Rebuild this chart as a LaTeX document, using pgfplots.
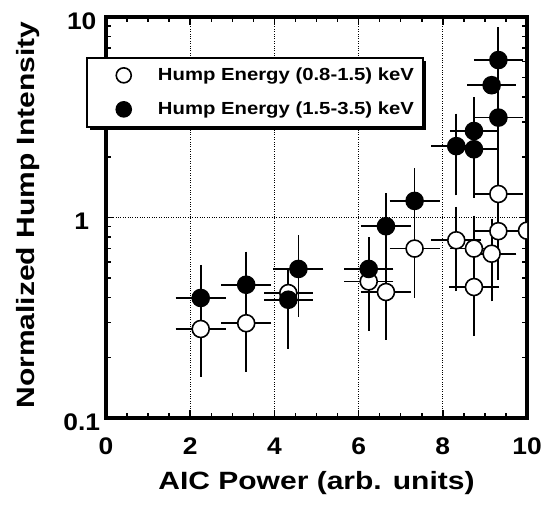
\documentclass[border=0pt]{standalone}
\usepackage{pgfplots}
\pgfplotsset{compat=1.18}
\usepackage{pgfplotstable}
\usepackage{fontspec}
\setmainfont{Liberation Sans}
\newfontfamily\wideA{Liberation Sans}[FakeStretch=1.1]
\newfontfamily\wideB{Liberation Sans}[FakeStretch=1.2]
\newfontfamily\wideC{Liberation Sans}[FakeStretch=1.16]
\usetikzlibrary{shadows}

\pgfplotstableread{
x     y      xe    yp     ym
2.25  0.278  0.50  0.10   0.110
3.33  0.297  0.50  0.10   0.119
4.33  0.420  0.48  0.10   0.175
6.24  0.480  0.49  0.20   0.194
6.65  0.425  0.50  0.175  0.168
7.33  0.700  0.50  0.28   0.283
8.32  0.770  0.50  0.31   0.320
8.74  0.700  0.48  0.277  0.150
8.74  0.450  0.50  0.17   0.182
9.16  0.660  0.49  0.28   0.260
9.32  0.855  0.49  0.245  0.345
9.32  1.310  0.49  0.55   0.410
}\openpts

\pgfplotstableread{
x     y      xe    yp     ym
2.25  0.397  0.50  0.157  0.161
3.33  0.462  0.50  0.184  0.130
4.33  0.389  0.48  0.14   0.157
4.57  0.554  0.50  0.226  0.220
6.24  0.554  0.49  0.206  0.224
6.65  0.905  0.50  0.355  0.305
7.33  1.210  0.50  0.47   0.230
8.32  2.270  0.50  0.88   0.920
8.74  2.700  0.48  1.11   1.090
8.74  2.190  0.48  0.70   0.880
9.16  4.570  0.48  0.0    0.0
9.32  6.100  0.49  2.40   1.700
9.32  3.150  0.49  1.25   1.290
}\filledpts

\newcommand{\tickfont}{\wideA\bfseries\fontsize{24}{28}\selectfont}
\newcommand{\labfont}{\wideB\bfseries\fontsize{25}{30}\selectfont}
\newcommand{\legfont}{\wideC\bfseries\fontsize{17.5}{21}\selectfont}

\begin{document}
\begin{tikzpicture}
\useasboundingbox (0,0) rectangle (545pt,504pt);
\begin{axis}[
  at={(106pt,86pt)}, anchor=south west,
  scale only axis, width=421pt, height=401pt,
  xmin=0, xmax=10, ymin=0.1, ymax=10, ymode=log,
  xtick={0,2,4,6,8,10}, minor x tick num=3,
  ytick={0.1,1,10}, yticklabels={0.1,1,10},
  /pgf/number format/assume math mode=true,
  tick label style={font=\tickfont},
  xticklabel style={anchor=center, yshift=-28pt},
  yticklabel style={anchor=center, xshift=-24.3pt, yshift=-4pt},
  major tick length=8pt, minor tick length=5pt,
  every tick/.style={black, line width=1.5pt},
  axis line style={line width=3.5pt},
  xmajorgrids, ymajorgrids,
  major grid style={black, dotted, line width=0.9pt},
  clip marker paths=true,
  xlabel={AIC Power (arb. units)},
  ylabel={Normalized Hump Intensity},
  label style={font=\labfont},
  xlabel style={at={(axis description cs:0.5,-0.162)}, anchor=center},
  ylabel style={at={(axis description cs:-0.186,0.506)}, anchor=center},
  error bars/error bar style={line width=1.8pt, black},
  error bars/error mark options={line width=1.8pt, mark size=4pt, black},
  legend style={at={(axis description cs:-0.0475,0.9)}, anchor=north west,
    draw=black, line width=1.5pt, fill=white,
    drop shadow={shadow xshift=3pt, shadow yshift=-3pt, fill=black, opacity=1},
    font=\legfont,
    nodes={inner sep=0pt},
    inner xsep=9pt, inner ysep=10pt, row sep=19pt, column sep=26.7pt},
  legend image code/.code={%
    \pgfpathmoveto{\pgfpoint{-28pt}{0pt}}\pgfusepath{discard}%
    \draw[#1, mark size=7.5pt] plot coordinates {(0pt,0pt)};},
]
% error bars of both series (drawn underneath the markers)
\addplot[forget plot, only marks, mark=none,
  error bars/.cd, x dir=both, x explicit, y dir=both, y explicit]
  table[x=x, y=y, x error=xe, y error plus=yp, y error minus=ym] {\openpts};
\addplot[forget plot, only marks, mark=none,
  error bars/.cd, x dir=both, x explicit, y dir=both, y explicit]
  table[x=x, y=y, x error=xe, y error plus=yp, y error minus=ym] {\filledpts};
% open markers
\addplot[only marks, mark=*, mark size=8.5pt,
  mark options={draw=black, fill=white, line width=1.6pt}]
  table[x=x, y=y] {\openpts};
% filled markers
\addplot[only marks, mark=*, mark size=8.5pt,
  mark options={draw=black, fill=black, line width=1.6pt}]
  table[x=x, y=y] {\filledpts};
% point cut at the right edge
\addplot[forget plot, only marks, mark=*, mark size=8.5pt,
  mark options={draw=black, fill=white, line width=1.6pt}]
  coordinates {(10.0,0.86)};
\legend{Hump Energy (0.8-1.5) keV, Hump Energy (1.5-3.5) keV}
\end{axis}
\end{tikzpicture}
\end{document}
